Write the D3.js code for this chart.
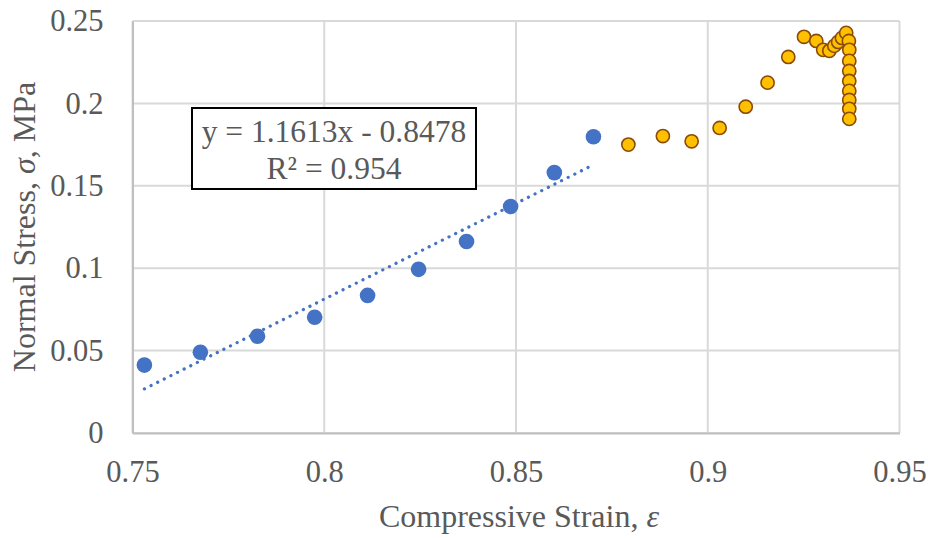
<!DOCTYPE html>
<html>
<head>
<meta charset="utf-8">
<script src="https://cdn.jsdelivr.net/npm/d3@7"></script>
<style>
  html, body { margin: 0; padding: 0; background: #fff; }
  svg text { font-family: "Liberation Serif", "Times New Roman", serif; fill: #595959; }
</style>
</head>
<body>
<svg id="chart" width="928" height="538"></svg>
<script>
// Linear region (blue)
const blueStrain = [0.7531, 0.7677, 0.7826, 0.7975, 0.8113, 0.8246, 0.8371, 0.8486, 0.8600, 0.8702];
const blueStress = [0.0412, 0.0490, 0.0587, 0.0702, 0.0835, 0.0993, 0.1162, 0.1374, 0.1580, 0.1798];
// Remaining region (orange)
const orangeStrain = [0.8793, 0.8883, 0.8958, 0.9031, 0.9099, 0.9156, 0.9210, 0.9251, 0.9283, 0.9301,
  0.9317, 0.9330, 0.9340, 0.9350, 0.9361, 0.9368, 0.9369, 0.9369, 0.9369, 0.9369, 0.9369, 0.9369, 0.9369, 0.9369];
const orangeStress = [0.1750, 0.1802, 0.1770, 0.1851, 0.1980, 0.2126, 0.2282, 0.2404, 0.2379, 0.2325,
  0.2319, 0.2349, 0.2373, 0.2397, 0.2428, 0.2379, 0.2325, 0.2258, 0.2197, 0.2136, 0.2076, 0.2021, 0.1967, 0.1906];
// Trendline
const trendSlope = 1.1613;
const trendIntercept = -0.8478;
const trendLabel = ["y = 1.1613x - 0.8478", "R² = 0.954"];
const xTicks = [0.75, 0.8, 0.85, 0.9, 0.95];
const yTicks = [0, 0.05, 0.1, 0.15, 0.2, 0.25];
const xTickLabels = ["0.75", "0.8", "0.85", "0.9", "0.95"];
const yTickLabels = ["0", "0.05", "0.1", "0.15", "0.2", "0.25"];

const svg = d3.select("#chart");
const margin = {left: 132.5, right: 28.5, top: 21, bottom: 105};
const W = 928, H = 538;
const x = d3.scaleLinear().domain([0.75, 0.95]).range([margin.left, W - margin.right]);
const y = d3.scaleLinear().domain([0, 0.25]).range([H - margin.bottom, margin.top]);

// gridlines
const grid = svg.append("g");
grid.selectAll("line.v").data(xTicks).join("line")
  .attr("x1", d => x(d)).attr("x2", d => x(d))
  .attr("y1", y(0)).attr("y2", y(0.25))
  .attr("stroke", "#d9d9d9").attr("stroke-width", 2);
grid.selectAll("line.h").data(yTicks).join("line")
  .attr("x1", x(0.75)).attr("x2", x(0.95))
  .attr("y1", d => y(d)).attr("y2", d => y(d))
  .attr("stroke", "#d9d9d9").attr("stroke-width", 2);

// axes (labels only)
const xAxis = d3.axisBottom(x).tickValues(xTicks).tickFormat((d, i) => xTickLabels[i]).tickSize(0).tickPadding(27);
const gx = svg.append("g").attr("transform", `translate(0,${y(0)})`).call(xAxis);
gx.select(".domain").attr("stroke", "#bfbfbf").attr("stroke-width", 2);
gx.selectAll("text").attr("font-size", 30.5).attr("font-family", "Liberation Serif").attr("fill", "#595959");

const yAxis = d3.axisLeft(y).tickValues(yTicks).tickFormat((d, i) => yTickLabels[i]).tickSize(0).tickPadding(29);
const gy = svg.append("g").attr("transform", `translate(${x(0.75)},0)`).call(yAxis);
gy.select(".domain").attr("stroke", "#bfbfbf").attr("stroke-width", 2);
gy.selectAll("text").attr("font-size", 30.5).attr("font-family", "Liberation Serif").attr("fill", "#595959");

// trendline
const tx0 = d3.min(blueStrain), tx1 = d3.max(blueStrain);
svg.append("line")
  .attr("x1", x(tx0)).attr("y1", y(trendSlope * tx0 + trendIntercept))
  .attr("x2", x(tx1)).attr("y2", y(trendSlope * tx1 + trendIntercept))
  .attr("stroke", "#4472c4").attr("stroke-width", 3.2)
  .attr("stroke-linecap", "round").attr("stroke-dasharray", "0.1 7.3");

// blue points
svg.append("g").selectAll("circle").data(blueStrain).join("circle")
  .attr("cx", d => x(d)).attr("cy", (d, i) => y(blueStress[i]))
  .attr("r", 7.8).attr("fill", "#4472c4");

// orange points
svg.append("g").selectAll("circle").data(orangeStrain).join("circle")
  .attr("cx", d => x(d)).attr("cy", (d, i) => y(orangeStress[i]))
  .attr("r", 6.6).attr("fill", "#ffc000").attr("stroke", "#8a4b08").attr("stroke-width", 1.6);

// equation box
const bx = 192, by = 108, bw = 284, bh = 81;
svg.append("rect").attr("x", bx).attr("y", by).attr("width", bw).attr("height", bh)
  .attr("fill", "#fff").attr("stroke", "#000").attr("stroke-width", 2);
svg.append("g").selectAll("text").data(trendLabel).join("text")
  .attr("x", bx + bw / 2).attr("y", (d, i) => by + 34 + i * 37)
  .attr("text-anchor", "middle").attr("font-size", 31.5).text(d => d);

// axis titles
const xt = svg.append("text").attr("x", 519).attr("y", 527).attr("text-anchor", "middle").attr("font-size", 32);
xt.append("tspan").text("Compressive Strain, ");
xt.append("tspan").attr("font-style", "italic").text("ε");

const yt = svg.append("text").attr("transform", "translate(35,227) rotate(-90)").attr("text-anchor", "middle").attr("font-size", 32);
yt.append("tspan").text("Normal Stress, ");
yt.append("tspan").attr("font-style", "italic").text("σ");
yt.append("tspan").text(", MPa");
</script>
</body>
</html>
